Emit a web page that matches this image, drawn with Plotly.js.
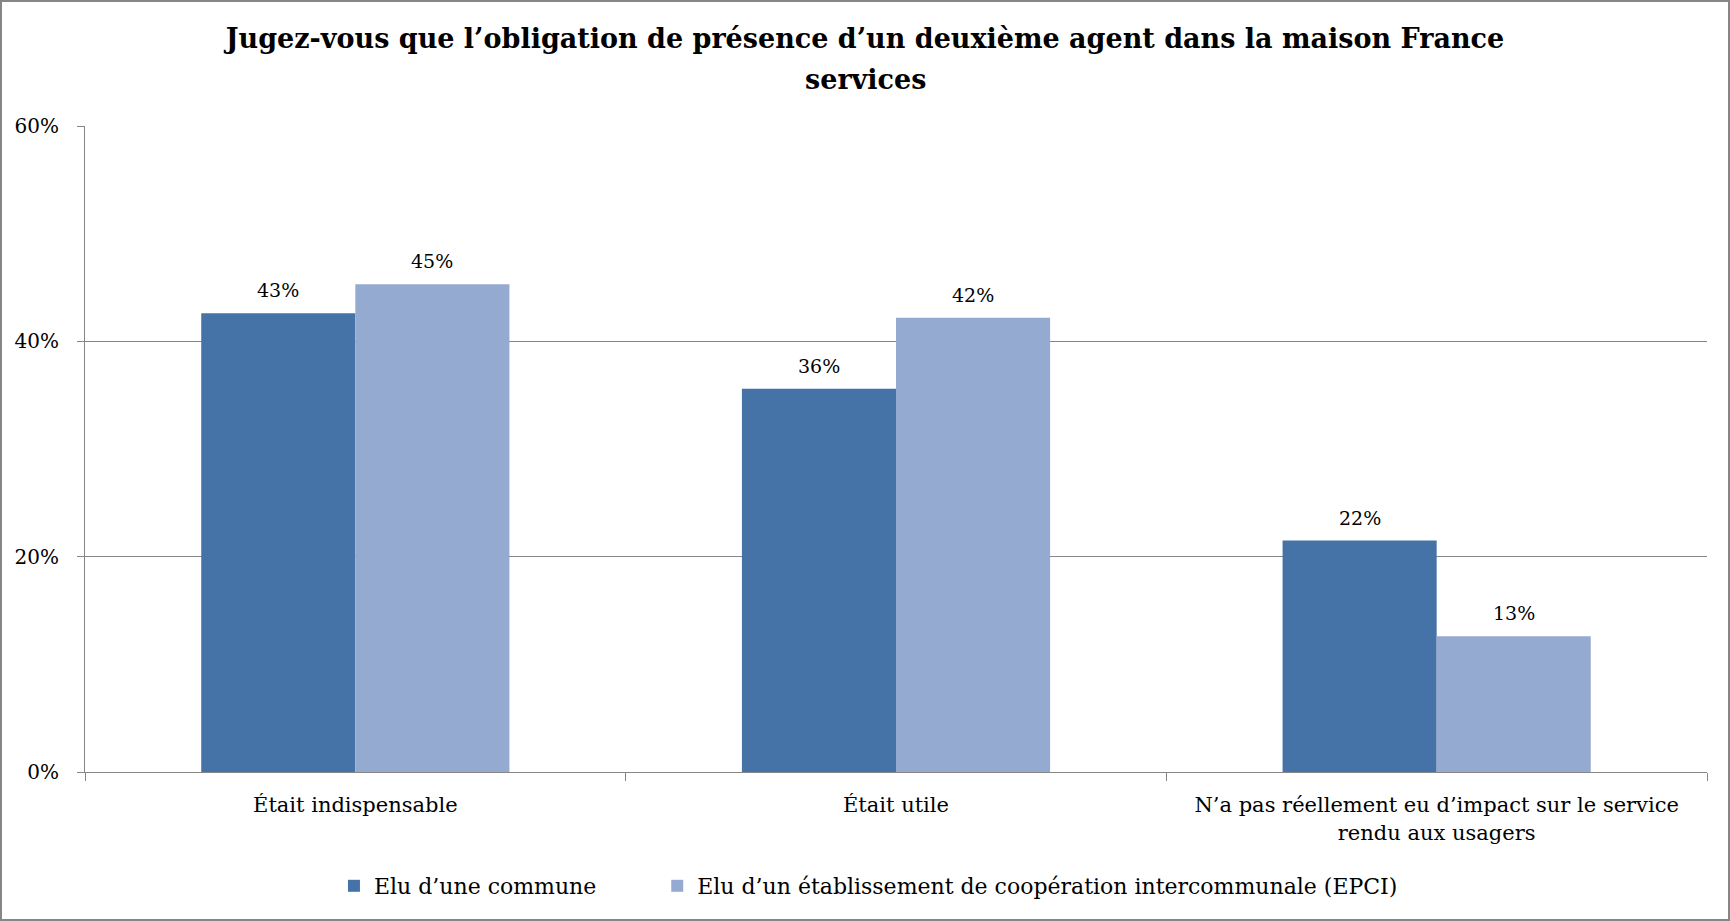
<!DOCTYPE html>
<html>
<head>
<meta charset="utf-8">
<script src="https://cdn.plot.ly/plotly-3.0.1.min.js"></script>
<style>
  html, body { margin: 0; padding: 0; background: #fff; }
  #wrap { position: relative; width: 1730px; height: 921px; }
  #chart { position: absolute; left: 0; top: 0; width: 1730px; height: 921px; }
  #frame { position: absolute; left: 0; top: 0; width: 1730px; height: 921px; box-sizing: border-box; border: 2px solid #868686; pointer-events: none; }
</style>
</head>
<body>
<div id="wrap"><div id="chart"></div><div id="frame"></div></div>
<script>
const categories = [
  "Était indispensable",
  "Était utile",
  "N’a pas réellement eu d’impact sur le service<br>rendu aux usagers"
];
const seriesNames = [
  "Elu d’une commune",
  "Elu d’un établissement de coopération intercommunale (EPCI)"
];
const communeValues = [42.6, 35.6, 21.5];
const epciValues = [45.3, 42.2, 12.6];
const yTickValues = [0, 20, 40, 60];
const yTickLabels = ["0%", "20%", "40%", "60%"];
const titleLines = [
  "Jugez-vous que l’obligation de présence d’un deuxième agent dans la maison France",
  "services"
];

const FONT = "'DejaVu Serif', 'Liberation Serif', serif";
const W = 1730, H = 921;
const M = { l: 85, r: 23, t: 126, b: 149 };
const BARGAP = 0.43;
const plotW = W - M.l - M.r, plotH = H - M.t - M.b;
const barPx = plotW / categories.length * (1 - BARGAP) / 2;
const centerX = (W / 2 - M.l) / plotW;
const legendPad = "\u00a0".repeat(8);

const traces = [
  { type: "bar", name: seriesNames[0] + legendPad, x: categories, y: communeValues, marker: { color: "#4673A7" } },
  { type: "bar", name: seriesNames[1], x: categories, y: epciValues, marker: { color: "#95AAD0" } }
];

const annotations = [];
[communeValues, epciValues].forEach((vals, s) => {
  vals.forEach((v, i) => {
    annotations.push({
      x: categories[i], y: v, xref: "x", yref: "y",
      xshift: (s === 0 ? -1 : 1) * barPx / 2, yshift: 10,
      yanchor: "bottom", xanchor: "center", showarrow: false,
      text: Math.round(v) + "%",
      font: { family: FONT, size: 19, color: "#000" }
    });
  });
});
// second title line (wider line spacing than Plotly's default)
annotations.push({
  xref: "paper", yref: "paper", x: centerX, y: (H - M.b - 79) / plotH,
  xanchor: "center", yanchor: "middle", showarrow: false,
  text: "<b>" + titleLines[1] + "</b>",
  font: { family: FONT, size: 27, color: "#000" }
});

const layout = {
  width: W, height: H,
  paper_bgcolor: "#fff", plot_bgcolor: "#fff",
  margin: M,
  font: { family: FONT, size: 20, color: "#000" },
  title: {
    text: "<b>" + titleLines[0] + "</b>",
    xref: "container", yref: "container",
    x: 0.5, xanchor: "center", y: 1 - 39 / H, yanchor: "middle",
    font: { family: FONT, size: 27, color: "#000" }
  },
  barmode: "group", bargap: BARGAP, bargroupgap: 0,
  xaxis: {
    type: "category", automargin: false,
    showline: true, linecolor: "#868686", linewidth: 1,
    ticks: "outside", tickson: "boundaries", ticklen: 8, tickcolor: "#868686",
    ticklabelstandoff: 14,
    tickfont: { family: FONT, size: 21, color: "#000" },
    showgrid: false
  },
  yaxis: {
    range: [0, 60], tickmode: "array", tickvals: yTickValues, ticktext: yTickLabels,
    automargin: false,
    showline: true, linecolor: "#868686", linewidth: 1,
    ticks: "outside", ticklen: 7, tickcolor: "#868686",
    ticklabelstandoff: 14,
    showgrid: true, gridcolor: "#868686", gridwidth: 1,
    zeroline: false,
    tickfont: { family: FONT, size: 20, color: "#000" }
  },
  legend: {
    orientation: "h", xref: "container", yref: "container",
    x: 0.502, xanchor: "center", y: 1 - 886 / H, yanchor: "middle",
    font: { family: FONT, size: 22, color: "#000" },
    itemwidth: 30
  },
  annotations: annotations,
  showlegend: true
};

Plotly.newPlot("chart", traces, layout, { displayModeBar: false, staticPlot: true });
</script>
</body>
</html>
